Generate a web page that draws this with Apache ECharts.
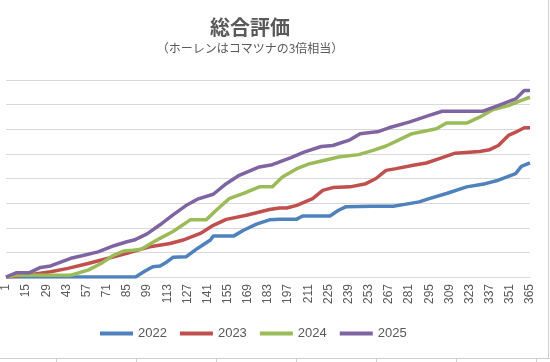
<!DOCTYPE html>
<html>
<head>
<meta charset="utf-8">
<script src="https://cdn.jsdelivr.net/npm/echarts@6/dist/echarts.min.js"></script>
<style>html,body{margin:0;padding:0;background:#fff}#c{width:550px;height:362px}</style>
</head>
<body>
<div id="c"></div>
<script>
const titleText = '総合評価';
const subtitleText = '（ホーレンはコマツナの3倍相当）';
const seriesNames = ['2022', '2023', '2024', '2025'];
const seriesColors = ['#4F81BD', '#C0504D', '#9BBB59', '#8064A2'];

// day-of-year categories 1..365 (tick labels every 14th day)
const dayCount = 365;

const days2022 = [1, 91, 97, 103, 108, 113, 117, 126, 134, 143, 145, 159, 166, 175, 184, 191, 203, 207, 226, 232, 237, 255, 270, 281, 288, 295, 307, 321, 334, 343, 350, 355, 359, 365];
const vals2022 = [0, 0, 22, 42, 45, 62, 80, 82, 116, 150, 166, 166, 190, 215, 232, 235, 235, 248, 248, 271, 285, 287, 287, 298, 305, 318, 339, 366, 379, 393, 409, 420, 449, 463];

const days2023 = [1, 8, 20, 32, 44, 58, 72, 85, 95, 101, 115, 124, 136, 145, 154, 168, 184, 191, 196, 203, 214, 221, 228, 240, 251, 258, 265, 272, 283, 293, 304, 313, 330, 337, 343, 350, 355, 361, 365];
const vals2023 = [0, 3, 11, 21, 35, 55, 76, 96, 113, 123, 136, 150, 177, 210, 234, 251, 274, 280, 280, 291, 318, 352, 363, 366, 379, 400, 433, 440, 453, 463, 485, 503, 510, 517, 534, 575, 588, 606, 606];

const days2024 = [1, 8, 46, 58, 67, 76, 83, 89, 95, 101, 108, 117, 129, 140, 147, 156, 166, 177, 186, 193, 203, 212, 224, 232, 246, 256, 265, 274, 283, 300, 307, 321, 330, 339, 350, 359, 365];
const vals2024 = [0, 7, 7, 28, 55, 89, 106, 109, 113, 134, 157, 185, 232, 232, 271, 318, 340, 366, 366, 406, 440, 460, 476, 487, 497, 514, 532, 557, 582, 602, 625, 625, 649, 679, 696, 717, 730];

const days2025 = [1, 8, 17, 25, 32, 46, 53, 65, 76, 85, 90, 99, 108, 117, 126, 134, 145, 154, 163, 177, 186, 199, 208, 220, 228, 240, 247, 260, 267, 281, 295, 304, 332, 346, 355, 361, 365];
const vals2025 = [0, 17, 17, 39, 45, 76, 85, 102, 127, 143, 150, 175, 212, 252, 290, 316, 336, 379, 413, 447, 456, 485, 507, 530, 534, 557, 582, 591, 606, 629, 656, 673, 673, 703, 723, 757, 757];

const categories = [];
for (let d = 1; d <= dayCount; d++) categories.push(String(d));

function pairs(ds, vs) { return ds.map((d, i) => [String(d), vs[i]]); }
const seriesData = [pairs(days2022, vals2022), pairs(days2023, vals2023), pairs(days2024, vals2024), pairs(days2025, vals2025)];

const chart = echarts.init(document.getElementById('c'), null, {renderer: 'canvas'});
const grey = '#595959';
const borderTicks = [56, 136, 216, 296, 376, 456, 536];
const graphics = [
  {type: 'text', x: 250, y: 27, style: {text: titleText, font: 'bold 20px "Noto Sans CJK JP"', fill: grey, align: 'center', verticalAlign: 'middle'}},
  {type: 'text', x: 250, y: 48, style: {text: subtitleText, font: '12px "Noto Sans CJK JP"', fill: grey, align: 'center', verticalAlign: 'middle'}},
  {type: 'line', shape: {x1: 548.5, y1: 0, x2: 548.5, y2: 358}, style: {stroke: '#cfcfcf', lineWidth: 1}},
  {type: 'line', shape: {x1: 0, y1: 358.5, x2: 550, y2: 358.5}, style: {stroke: '#cfcfcf', lineWidth: 1}}
].concat(borderTicks.map(x => ({type: 'line', shape: {x1: x + 0.5, y1: 358, x2: x + 0.5, y2: 362}, style: {stroke: '#cfcfcf', lineWidth: 1}})));

chart.setOption({
  animation: false,
  backgroundColor: '#fff',
  graphic: graphics,
  grid: {left: 5, right: 20, top: 80, bottom: 85, containLabel: false},
  legend: {
    data: seriesNames,
    left: 95, top: 322,
    icon: 'rect', itemWidth: 33, itemHeight: 4, itemGap: 13,
    textStyle: {color: grey, fontSize: 13, fontFamily: 'Liberation Sans'}
  },
  xAxis: {
    type: 'category', data: categories, boundaryGap: false,
    axisLine: {lineStyle: {color: '#d9d9d9'}},
    axisTick: {show: false},
    axisLabel: {interval: 13, rotate: 90, color: grey, fontSize: 12, fontFamily: 'Liberation Sans', margin: 7},
    splitLine: {show: false}
  },
  yAxis: {
    type: 'value', min: 0, max: 800, interval: 100,
    axisLabel: {show: false}, axisLine: {show: false}, axisTick: {show: false},
    splitLine: {lineStyle: {color: '#d9d9d9', width: 1}}
  },
  series: seriesNames.map((n, i) => ({
    name: n, type: 'line', data: seriesData[i], showSymbol: false, symbol: 'none',
    lineStyle: {color: seriesColors[i], width: 3.5, join: 'round'},
    itemStyle: {color: seriesColors[i]}
  }))
});
</script>
</body>
</html>
